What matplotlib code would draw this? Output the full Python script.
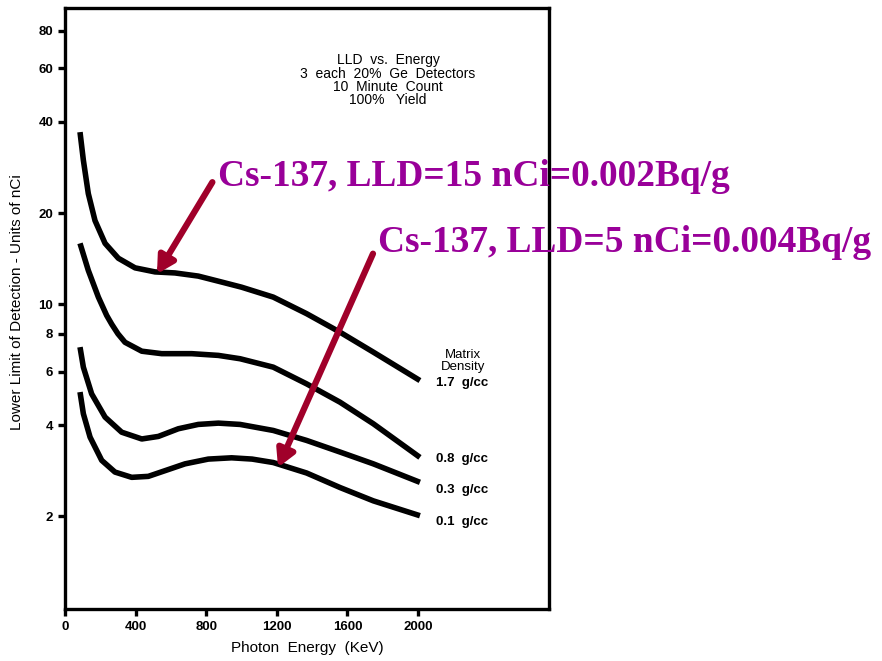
import matplotlib
matplotlib.use("Agg")
import matplotlib.pyplot as plt
from matplotlib.ticker import FixedLocator, NullLocator, FixedFormatter

# ---- data ----
x_17 = [85, 104, 132, 170, 227, 302, 397, 510, 623, 755, 888, 1000, 1180, 1369, 1558, 1747, 2011]
y_17 = [37.0, 29.9, 23.2, 18.9, 15.9, 14.2, 13.2, 12.8, 12.7, 12.4, 11.85, 11.4, 10.57, 9.32, 8.10, 6.96, 5.61]

x_08 = [85, 132, 189, 236, 265, 300, 340, 435, 548, 718, 869, 992, 1180, 1369, 1558, 1747, 2011]
y_08 = [15.9, 12.95, 10.57, 9.2, 8.6, 8.0, 7.5, 7.01, 6.88, 6.88, 6.79, 6.62, 6.21, 5.47, 4.76, 4.04, 3.13]

x_03 = [85, 104, 151, 227, 321, 435, 529, 642, 755, 869, 992, 1180, 1369, 1558, 1747, 2011]
y_03 = [7.23, 6.21, 5.07, 4.25, 3.79, 3.60, 3.67, 3.89, 4.02, 4.06, 4.02, 3.84, 3.56, 3.26, 2.98, 2.59]

x_01 = [85, 104, 142, 208, 283, 378, 472, 567, 680, 812, 944, 1060, 1180, 1369, 1558, 1747, 2011]
y_01 = [5.14, 4.36, 3.65, 3.06, 2.80, 2.69, 2.71, 2.83, 2.98, 3.09, 3.12, 3.09, 3.01, 2.78, 2.49, 2.25, 2.01]

series = [(x_17, y_17), (x_08, y_08), (x_03, y_03), (x_01, y_01)]
density_labels = ["1.7  g/cc", "0.8  g/cc", "0.3  g/cc", "0.1  g/cc"]
label_y = [5.49, 3.10, 2.45, 1.92]

x_ticks = [0, 400, 800, 1200, 1600, 2000]
y_ticks = [2, 4, 6, 8, 10, 20, 40, 60, 80]

title_lines = "LLD  vs.  Energy\n3  each  20%  Ge  Detectors\n10  Minute  Count\n100%   Yield"
note1 = "Cs-137, LLD=15 nCi=0.002Bq/g"
note2 = "Cs-137, LLD=5 nCi=0.004Bq/g"
arrow1_tip, arrow1_tail = (521, 12.6), (835, 25.3)
arrow2_tip, arrow2_tail = (1207, 2.90), (1745, 14.7)

# ---- figure ----
fig = plt.figure(figsize=(8.82, 6.61), dpi=100)
ax = fig.add_axes([0.0737, 0.0787, 0.5487, 0.9093])
ax.set_yscale("log")
ax.set_xlim(0, 2742)
ax.set_ylim(0.99, 95)

for xs, ys in series:
    ax.plot(xs, ys, color="black", lw=4.0, solid_capstyle="butt", solid_joinstyle="round")

for s in ax.spines.values():
    s.set_linewidth(2.4)

ax.xaxis.set_major_locator(FixedLocator(x_ticks))
ax.xaxis.set_minor_locator(NullLocator())
ax.yaxis.set_major_locator(FixedLocator(y_ticks))
ax.yaxis.set_major_formatter(FixedFormatter([str(v) for v in y_ticks]))
ax.yaxis.set_minor_locator(NullLocator())
ax.tick_params(axis="both", direction="out", length=5, width=2.4, labelsize=9.5)
for lab in ax.get_xticklabels() + ax.get_yticklabels():
    lab.set_fontweight("bold")
    lab.set_family("Liberation Sans")

ax.set_xlabel("Photon  Energy  (KeV)", fontsize=11, family="Liberation Sans")
ax.set_ylabel("Lower Limit of Detection - Units of nCi", fontsize=11, family="Liberation Sans")
ax.xaxis.set_label_coords(0.5, -0.053)
ax.yaxis.set_label_coords(-0.085, 0.51)

ax.text(1830, 67.4, title_lines, ha="center", va="top", fontsize=10, family="Liberation Sans",
        linespacing=0.95)
ax.text(2255, 5.95, "Matrix\nDensity", ha="center", va="bottom", fontsize=9.5, family="Liberation Sans",
        linespacing=0.95)
for lab, yv in zip(density_labels, label_y):
    ax.text(2100, yv, lab, ha="left", va="center", fontsize=9.5, family="Liberation Sans",
            fontweight="bold")

arrow_kw = dict(arrowstyle="-|>,head_length=1.0,head_width=0.55", color="#A0002A", lw=4.5,
                shrinkA=0, shrinkB=0)
ax.annotate("", xy=arrow1_tip, xytext=arrow1_tail, arrowprops=arrow_kw)
ax.annotate("", xy=arrow2_tip, xytext=arrow2_tail, arrowprops=arrow_kw)

fig.text(218 / 882, 1 - 177 / 661, note1, ha="left", va="center", fontsize=26.9,
         family="Liberation Serif", fontweight="bold", color="#990099")
fig.text(378 / 882, 1 - 242 / 661, note2, ha="left", va="center", fontsize=26.9,
         family="Liberation Serif", fontweight="bold", color="#990099")

fig.savefig("out.png", dpi=100)
